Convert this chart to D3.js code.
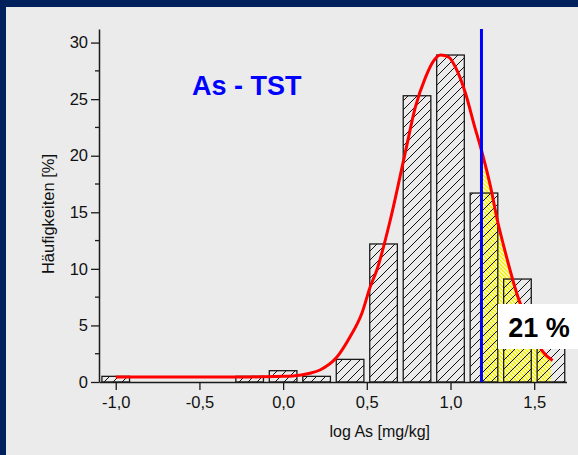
<!DOCTYPE html>
<html>
<head>
<meta charset="utf-8">
<script src="https://cdn.jsdelivr.net/npm/d3@7"></script>
<style>
  html, body { margin: 0; padding: 0; background: #00205b; }
  svg { display: block; }
  text { font-family: "Liberation Sans", Arial, Helvetica, sans-serif; }
</style>
</head>
<body>
<svg id="chart" width="578" height="455"></svg>
<script>
// Histogram of log As (mg/kg), class width 0.2
const binCenters = [-1.0, -0.2, 0.0, 0.2, 0.4, 0.6, 0.8, 1.0, 1.2, 1.4, 1.6];
const frequency  = [0.5, 0.5, 1.0, 0.5, 2.0, 12.2, 25.3, 28.9, 16.7, 9.1, 3.3];

// Fitted distribution curve (log As, %)
const fitX = [-1.0, -0.5, -0.2, 0.0, 0.1, 0.16, 0.22, 0.32, 0.40, 0.47, 0.52, 0.56, 0.64, 0.73, 0.79, 0.85, 0.90, 0.94, 0.99, 1.04, 1.09, 1.14, 1.19, 1.24, 1.28, 1.32, 1.41, 1.48, 1.55, 1.61];
const fitY = [0.44, 0.44, 0.45, 0.5, 0.6, 0.77, 1.06, 2.18, 4.0, 6.06, 8.4, 9.9, 14.3, 20.3, 24.3, 26.9, 28.4, 28.9, 28.7, 27.5, 25.5, 22.8, 20.2, 17.2, 14.3, 11.9, 7.2, 4.8, 2.7, 1.9];

// Threshold and share of samples above it
const threshold = 1.185;
const exceedEnd = 1.6;
const exceedLabel = "21 %";

const xTicks = [-1.0, -0.5, 0.0, 0.5, 1.0, 1.5];
const yTicks = [0, 5, 10, 15, 20, 25, 30];
const yMinorTicks = [2.5, 7.5, 12.5, 17.5, 22.5, 27.5];
const binWidth = 0.165;

const svg = d3.select("#chart");
const W = 578, H = 455;

// panel
svg.append("rect").attr("x", 6).attr("y", 7).attr("width", W - 6).attr("height", H - 7).attr("fill", "#ebebeb");

const x = d3.scaleLinear().domain([-1.1, 1.693]).range([99, 566.5]);
const y = d3.scaleLinear().domain([0, 31.2]).range([382, 29]);

const defs = svg.append("defs");
const hatch = defs.append("pattern").attr("id", "hatch").attr("patternUnits", "userSpaceOnUse")
  .attr("width", 9).attr("height", 9);
hatch.append("path").attr("d", "M-1,1 L1,-1 M0,9 L9,0 M8,10 L10,8").attr("stroke", "#111").attr("stroke-width", 1);

const yhatch = defs.append("pattern").attr("id", "yhatch").attr("patternUnits", "userSpaceOnUse")
  .attr("width", 4).attr("height", 4);
yhatch.append("rect").attr("width", 4).attr("height", 4).attr("fill", "#fbfbd8");
yhatch.append("path").attr("d", "M-1,-1 L5,5 M-1,3 L1,5 M3,-1 L5,1").attr("stroke", "#f2f000").attr("stroke-width", 1.4);

defs.append("clipPath").attr("id", "exceedClip").append("rect")
  .attr("x", x(threshold)).attr("y", 0)
  .attr("width", x(exceedEnd) - x(threshold)).attr("height", H);

const fit = fitX.map((v, i) => [v, fitY[i]]);

// area above threshold under the fitted curve
svg.append("path")
  .datum(fit)
  .attr("clip-path", "url(#exceedClip)")
  .attr("fill", "url(#yhatch)")
  .attr("d", d3.area().x(d => x(d[0])).y0(y(0)).y1(d => y(d[1])).curve(d3.curveMonotoneX));

// histogram bars
svg.append("g").selectAll("rect")
  .data(binCenters)
  .join("rect")
  .attr("x", d => x(d - binWidth / 2))
  .attr("width", d => x(d + binWidth / 2) - x(d - binWidth / 2))
  .attr("y", (d, i) => y(frequency[i]))
  .attr("height", (d, i) => y(0) - y(frequency[i]))
  .attr("fill", "url(#hatch)")
  .attr("stroke", "#1a1a1a")
  .attr("stroke-width", 1.3);

// axes
const axisColor = "#1a1a1a";
const xAxis = svg.append("g").attr("transform", `translate(0,${y(0)})`)
  .call(d3.axisBottom(x).tickValues(xTicks).tickSize(8).tickSizeOuter(0)
    .tickFormat(d => d3.format(".1f")(d).replace(".", ",").replace("−", "-")));
const yAxis = svg.append("g").attr("transform", `translate(${x(-1.1)},0)`)
  .call(d3.axisLeft(y).tickValues(yTicks).tickSize(8).tickSizeOuter(0).tickFormat(d3.format("d")));
yAxis.append("g").selectAll("line").data(yMinorTicks).join("line")
  .attr("x1", -4).attr("x2", 0).attr("y1", d => y(d)).attr("y2", d => y(d))
  .attr("stroke", axisColor).attr("stroke-width", 1.3);

[xAxis, yAxis].forEach(g => {
  g.select(".domain").attr("stroke", axisColor).attr("stroke-width", 1.5);
  g.selectAll(".tick line").attr("stroke", axisColor).attr("stroke-width", 1.3);
  g.selectAll(".tick text").attr("fill", "#111").style("font-size", "16.5px")
    .style("font-family", "'Liberation Sans', Arial, sans-serif");
});
xAxis.selectAll(".tick text").attr("dy", "0.95em").attr("y", 10);
yAxis.selectAll(".tick text").attr("x", -11);

// fitted curve
svg.append("path")
  .datum(fit)
  .attr("fill", "none")
  .attr("stroke", "#ff0000")
  .attr("stroke-width", 3)
  .attr("d", d3.line().x(d => x(d[0])).y(d => y(d[1])).curve(d3.curveMonotoneX));

// threshold line
svg.append("line")
  .attr("x1", x(threshold)).attr("x2", x(threshold))
  .attr("y1", y(31.2)).attr("y2", y(0))
  .attr("stroke", "#0000ff").attr("stroke-width", 3);

// exceedance label
svg.append("rect").attr("x", 498).attr("y", 304).attr("width", 80).attr("height", 45).attr("fill", "#ffffff");
svg.append("text").attr("x", 539).attr("y", 337).attr("text-anchor", "middle")
  .style("font-size", "27px").style("font-weight", "bold").attr("fill", "#000")
  .text(exceedLabel);

// title
svg.append("text").attr("x", 192).attr("y", 95)
  .style("font-size", "27px").style("font-weight", "bold").attr("fill", "#0000ff")
  .text("As - TST");

// axis titles
svg.append("text").attr("x", (x(-1.1) + x(1.693)) / 2 + 47).attr("y", 437).attr("text-anchor", "middle")
  .style("font-size", "16px").attr("fill", "#111").text("log As [mg/kg]");
svg.append("text").attr("transform", `translate(54,214) rotate(-90)`)
  .attr("text-anchor", "middle").style("font-size", "16.5px").attr("fill", "#111")
  .text("Häufigkeiten [%]");
</script>
</body>
</html>
